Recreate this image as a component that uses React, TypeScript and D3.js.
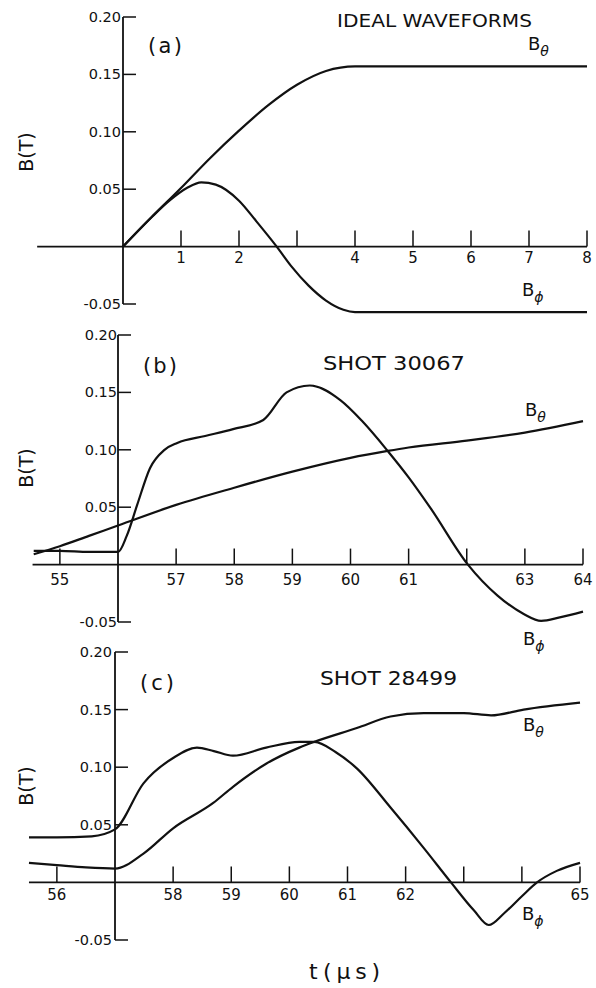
import React from "react";
import * as d3 from "d3";

// ---------- DATA ----------
// Panel (a): ideal waveforms
const aTime = [0, 0.5, 1, 1.5, 2, 2.5, 3, 3.5, 4, 5, 6, 7, 8];
const aBtheta = [0, 0.026, 0.051, 0.077, 0.101, 0.123, 0.141, 0.153, 0.157, 0.157, 0.157, 0.157, 0.157];
const aPhiTime = [0, 0.5, 0.8, 1.1, 1.35, 1.6, 2, 2.3, 2.65, 2.9, 3.2, 3.5, 3.8, 4, 5, 6, 7, 8];
const aBphi = [0, 0.026, 0.04, 0.051, 0.056, 0.054, 0.04, 0.022, 0, -0.017, -0.034, -0.047, -0.055, -0.057, -0.057, -0.057, -0.057, -0.057];

// Panel (b): shot 30067
const bThetaTime = [54.55, 55, 55.5, 56, 57, 58, 59, 60, 60.64, 61, 62, 63, 64];
const bBtheta = [0.009, 0.016, 0.025, 0.034, 0.052, 0.067, 0.081, 0.093, 0.099, 0.102, 0.108, 0.115, 0.125];
const bPhiTime = [54.55, 55, 55.5, 56, 56.15, 56.33, 56.55, 56.8, 57.02, 57.5, 57.98, 58.5, 58.9, 59.3, 59.83, 60.2, 60.64, 61, 61.38, 62.02, 62.53, 62.98, 63.28, 63.6, 64];
const bBphi = [0.012, 0.012, 0.011, 0.011, 0.025, 0.052, 0.084, 0.1, 0.106, 0.112, 0.118, 0.126, 0.15, 0.156, 0.143, 0.125, 0.099, 0.076, 0.049, 0, -0.027, -0.043, -0.049, -0.046, -0.041];

// Panel (c): shot 28499
const cThetaTime = [55.52, 56, 56.5, 57, 57.49, 58, 58.69, 59.03, 59.6, 60.17, 60.43, 61.16, 61.74, 62.31, 63, 63.47, 64.03, 65];
const cBtheta = [0.017, 0.015, 0.013, 0.012, 0.025, 0.047, 0.069, 0.083, 0.103, 0.117, 0.122, 0.134, 0.144, 0.147, 0.147, 0.145, 0.15, 0.156];
const cPhiTime = [55.52, 56, 56.6, 57, 57.49, 58, 58.41, 58.7, 59.03, 59.6, 60.17, 60.43, 60.8, 61.16, 61.74, 62.31, 62.78, 63.17, 63.43, 63.69, 64, 64.26, 64.6, 65];
const cBphi = [0.039, 0.039, 0.04, 0.046, 0.086, 0.108, 0.117, 0.114, 0.11, 0.117, 0.122, 0.122, 0.113, 0.099, 0.065, 0.03, 0, -0.024, -0.037, -0.027, -0.012, 0, 0.01, 0.017];

// Ticks
const yTicks = [0.2, 0.15, 0.1, 0.05, 0, -0.05];
const yTickLabels = ["0.20", "0.15", "0.10", "0.05", "", "-0.05"];
const aXTicks = [1, 2, 3, 4, 5, 6, 7, 8];
const aXLabels = ["1", "2", "", "4", "5", "6", "7", "8"];
const bXTicks = [55, 57, 58, 59, 60, 61, 62, 63, 64];
const bXLabels = ["55", "57", "58", "59", "60", "61", "", "63", "64"];
const cXTicks = [56, 58, 59, 60, 61, 62, 63, 64, 65];
const cXLabels = ["56", "58", "59", "60", "61", "62", "", "", "65"];

const titles = ["IDEAL WAVEFORMS", "SHOT 30067", "SHOT 28499"];
const panelTags = ["(a)", "(b)", "(c)"];

const FONT = "'DejaVu Sans', Verdana, sans-serif";

type PanelCfg = {
  xDomain: [number, number];
  xRange: [number, number];
  xLeft: number;
  yRange: [number, number]; // for -0.05, 0.20
  xTicks: number[];
  xLabels: string[];
  xLabelBase: number;
  series: { t: number[]; v: number[] }[];
  title: string;
  titleX: number;
  titleBase: number;
  titleLen: number;
  titleSize: number;
  tag: string;
  tagX: number;
  tagBase: number;
  ylabY: number;
  yLabRight: number;
  thetaPos: [number, number];
  phiPos: [number, number];
};

const panels: PanelCfg[] = [
  {
    xDomain: [0, 8], xRange: [123, 587], xLeft: -1.48, yRange: [304, 17],
    xTicks: aXTicks, xLabels: aXLabels, xLabelBase: 263,
    series: [{ t: aTime, v: aBtheta }, { t: aPhiTime, v: aBphi }],
    title: titles[0], titleX: 337, titleBase: 27, titleLen: 195, titleSize: 17,
    tag: panelTags[0], tagX: 148, tagBase: 53, ylabY: 152, yLabRight: 121,
    thetaPos: [528, 50], phiPos: [522, 296],
  },
  {
    xDomain: [56, 64], xRange: [118, 583], xLeft: 54.53, yRange: [622, 335],
    xTicks: bXTicks, xLabels: bXLabels, xLabelBase: 585,
    series: [{ t: bThetaTime, v: bBtheta }, { t: bPhiTime, v: bBphi }],
    title: titles[1], titleX: 323, titleBase: 370, titleLen: 142, titleSize: 19,
    tag: panelTags[1], tagX: 143, tagBase: 373, ylabY: 468, yLabRight: 117,
    thetaPos: [525, 416], phiPos: [523, 645],
  },
  {
    xDomain: [57, 65], xRange: [115, 580], xLeft: 55.52, yRange: [940, 652],
    xTicks: cXTicks, xLabels: cXLabels, xLabelBase: 900,
    series: [{ t: cThetaTime, v: cBtheta }, { t: cPhiTime, v: cBphi }],
    title: titles[2], titleX: 320, titleBase: 685, titleLen: 137, titleSize: 19,
    tag: panelTags[2], tagX: 140, tagBase: 690, ylabY: 786, yLabRight: 112,
    thetaPos: [523, 731], phiPos: [522, 920],
  },
];

function BLabel({ x, y, sub }: { x: number; y: number; sub: string }) {
  return (
    <text x={x} y={y} fontFamily={FONT} fontSize={18} fill="#111">
      B
      <tspan fontSize={14} dy={6} fontStyle="italic">{sub}</tspan>
    </text>
  );
}

function Panel({ p }: { p: PanelCfg }) {
  const x = d3.scaleLinear().domain(p.xDomain).range(p.xRange);
  const y = d3.scaleLinear().domain([-0.05, 0.2]).range(p.yRange);
  const line = d3
    .line<[number, number]>()
    .x((d) => x(d[0]))
    .y((d) => y(d[1]))
    .curve(d3.curveMonotoneX);
  const x0 = x(p.xDomain[0]);
  const y0 = y(0);
  return (
    <g>
      {/* x axis */}
      <line x1={x(p.xLeft)} x2={x(p.xDomain[1])} y1={y0} y2={y0} stroke="#111" strokeWidth={1.8} />
      {p.xTicks.map((t, i) => (
        <g key={"xt" + i}>
          <line x1={x(t)} x2={x(t)} y1={y0} y2={y0 - 16} stroke="#111" strokeWidth={1.5} />
          {p.xLabels[i] && (
            <text x={x(t)} y={p.xLabelBase} textAnchor="middle" fontFamily={FONT} fontSize={15} fill="#111">
              {p.xLabels[i]}
            </text>
          )}
        </g>
      ))}
      {/* y axis */}
      <line x1={x0} x2={x0} y1={y(0.2)} y2={y(-0.05)} stroke="#111" strokeWidth={1.8} />
      {yTicks.map((v, i) =>
        v === 0 ? null : (
          <g key={"yt" + i}>
            <line x1={x0} x2={x0 + 13} y1={y(v)} y2={y(v)} stroke="#111" strokeWidth={1.5} />
            <text x={p.yLabRight} y={y(v) + 5} textAnchor="end" fontFamily={FONT} fontSize={14.5} fill="#111">
              {yTickLabels[i]}
            </text>
          </g>
        )
      )}
      {/* curves */}
      {p.series.map((s, i) => (
        <path
          key={"s" + i}
          d={line(s.t.map((t, j) => [t, s.v[j]] as [number, number])) || ""}
          fill="none"
          stroke="#111"
          strokeWidth={2.2}
          strokeLinejoin="round"
        />
      ))}
      {/* texts */}
      <text x={p.titleX} y={p.titleBase} fontFamily={FONT} fontSize={p.titleSize} fill="#111"
        textLength={p.titleLen} lengthAdjust="spacingAndGlyphs">
        {p.title}
      </text>
      <text x={p.tagX} y={p.tagBase} fontFamily={FONT} fontSize={21} fill="#111"
        textLength={34} lengthAdjust="spacing">
        {p.tag}
      </text>
      <text transform={`translate(33, ${p.ylabY}) rotate(-90)`} textAnchor="middle" fontFamily={FONT}
        fontSize={19} fill="#111">
        B(T)
      </text>
      <BLabel x={p.thetaPos[0]} y={p.thetaPos[1]} sub="θ" />
      <BLabel x={p.phiPos[0]} y={p.phiPos[1]} sub="ϕ" />
    </g>
  );
}

export default function App() {
  return (
    <svg width={596} height={988} style={{ position: "absolute", left: 0, top: 0, background: "#fff" }}>
      <rect x={0} y={0} width={596} height={988} fill="#fff" />
      {panels.map((p, i) => (
        <Panel key={i} p={p} />
      ))}
      <text x={309} y={979} fontFamily={FONT} fontSize={22} fill="#111">t</text>
      <text x={323} y={979} fontFamily={FONT} fontSize={22} fill="#111" textLength={57} lengthAdjust="spacing">
        (μs)
      </text>
    </svg>
  );
}
